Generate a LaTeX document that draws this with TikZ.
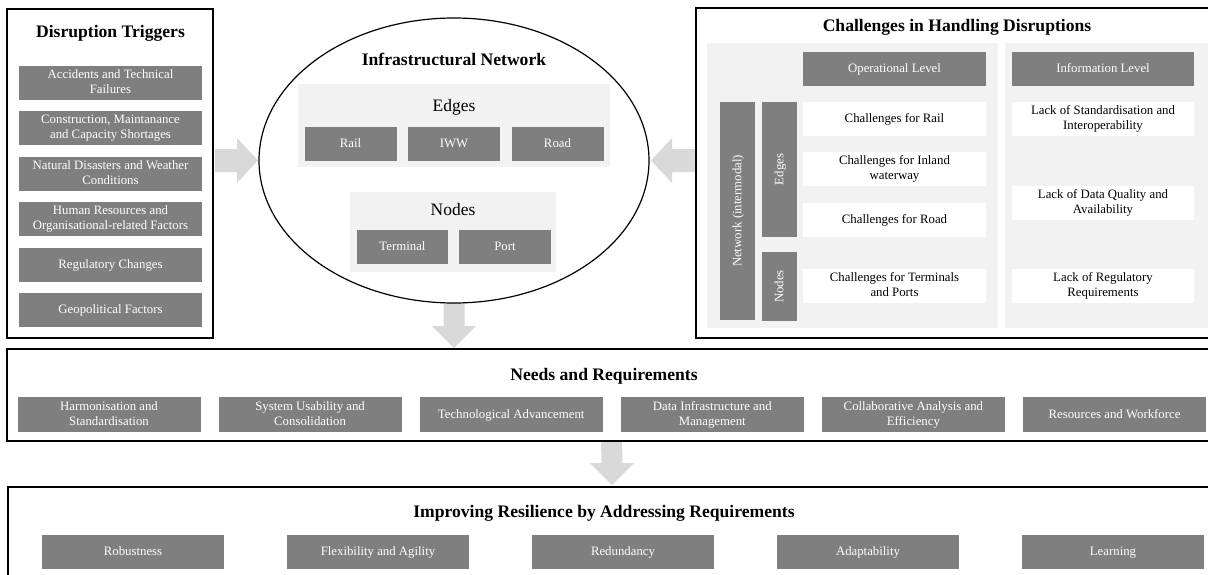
\documentclass[tikz,border=0pt]{standalone}
\usepackage{fontspec}
\setmainfont{Liberation Serif}
\usetikzlibrary{calc,shapes.geometric,backgrounds}

\definecolor{boxgray}{HTML}{7F7F7F}
\definecolor{panelgray}{HTML}{F2F2F2}
\definecolor{arrowgray}{HTML}{D9D9D9}

\newcommand{\smallfont}{\fontsize{9.6pt}{11.25pt}\selectfont}
\newcommand{\headfont}{\fontsize{13.2pt}{15pt}\selectfont\bfseries}
\newcommand{\groupfont}{\fontsize{13.1pt}{15pt}\selectfont}

\tikzset{
  sz/.style 2 args={minimum width=#1*0.75pt, minimum height=#2*0.75pt},
  base/.style={inner sep=0pt, outer sep=0pt, align=center},
  evenlines/.style={execute at begin node={\rule{0pt}{8pt}}, execute at end node={\vphantom{g}}},
  darkbox/.style={base, evenlines, fill=boxgray, text=white, font=\smallfont},
  lightbox/.style={base, evenlines, fill=white, text=black, font=\smallfont},
  panel/.style={base, fill=panelgray},
  frame/.style={base, draw=black, line width=1.2pt},
  headline/.style={font=\headfont, inner sep=0pt},
  grouplabel/.style={font=\groupfont, inner sep=0pt},
  blockarrow/.style={fill=arrowgray},
}

% horizontal block arrow: start, tip, signed head length
\newcommand{\harrowfill}[3]{%
  \fill[blockarrow] ($(#1)+(0,-11.5)$) -- ($(#2)+(#3,-11.5)$) -- ($(#2)+(#3,-22.5)$)
    -- (#2) -- ($(#2)+(#3,22.5)$) -- ($(#2)+(#3,11.5)$) -- ($(#1)+(0,11.5)$) -- cycle;}
% downward block arrow: start, tip
\newcommand{\varrowfill}[2]{%
  \fill[blockarrow] ($(#1)+(-10.5,0)$) -- ($(#2)+(-10.5,-22)$) -- ($(#2)+(-22,-22)$)
    -- (#2) -- ($(#2)+(22,-22)$) -- ($(#2)+(10.5,-22)$) -- ($(#1)+(10.5,0)$) -- cycle;}

\begin{document}
\begin{tikzpicture}[x=0.75pt, y=-0.75pt]
\useasboundingbox (0,0) rectangle (1208,575);
\clip (0,0) rectangle (1208,575);

% ---------------- Disruption triggers ----------------
\node[frame, sz={206}{329}] (trig) at (110,173.5) {};
\node[headline] (trigT) at (110.5,33) {Disruption Triggers};
\node[darkbox, sz={183}{34}] (t1) at (110.5,83)    {Accidents and Technical\\Failures};
\node[darkbox, sz={183}{34}] (t2) at (110.5,128.4) {Construction, Maintanance\\and Capacity Shortages};
\node[darkbox, sz={183}{34}] (t3) at (110.5,173.8) {Natural Disasters and Weather\\Conditions};
\node[darkbox, sz={183}{34}] (t4) at (110.5,219.2) {Human Resources and\\Organisational-related Factors};
\node[darkbox, sz={183}{34}] (t5) at (110.5,264.6) {Regulatory Changes};
\node[darkbox, sz={183}{34}] (t6) at (110.5,310)   {Geopolitical Factors};

% ---------------- Infrastructural network ----------------
\node[base, ellipse, draw=black, line width=0.9pt, sz={390}{285}] (net) at (454,160.5) {};
\node[headline] (netT) at (454,59) {Infrastructural Network};
\node[panel, sz={312}{83}] (edgesP) at (454,125.5) {};
\node[grouplabel] (edgesT) at (454,107) {Edges};
\node[darkbox, sz={92}{34}] (rail) at (350.5,144) {Rail};
\node[darkbox, sz={92}{34}] (iww)  at (454,144)   {IWW};
\node[darkbox, sz={92}{34}] (road) at (557.5,144) {Road};
\node[panel, sz={206}{80}] (nodesP) at (453,232) {};
\node[grouplabel] (nodesT) at (453,210) {Nodes};
\node[darkbox, sz={91}{34}] (term) at (402.5,247) {Terminal};
\node[darkbox, sz={92}{34}] (port) at (505,247)   {Port};

% ---------------- Challenges ----------------
\node[frame, sz={522}{330}] (chal) at (957,173) {};
\node[headline] (chalT) at (957,27) {Challenges in Handling Disruptions};
\node[panel, sz={291}{285}] (opP)  at (852.5,185.5) {};
\node[panel, sz={205}{285}] (infP) at (1107.5,185.5) {};
\node[darkbox, sz={183}{34}] (op)  at (894.5,69) {Operational Level};
\node[darkbox, sz={182}{34}] (inf) at (1103,69)  {Information Level};
\node[darkbox, sz={218}{35}, rotate=90] (vnet)   at (737.5,211)   {Network (intermodal)};
\node[darkbox, sz={135}{35}, rotate=90] (vedges) at (779.5,169.5) {Edges};
\node[darkbox, sz={69}{35},  rotate=90] (vnodes) at (779.5,286.5) {Nodes};
\node[lightbox, sz={183}{34}] (cRail) at (894.5,119)   {Challenges for Rail};
\node[lightbox, sz={183}{34}] (cIww)  at (894.5,169)   {Challenges for Inland\\waterway};
\node[lightbox, sz={183}{34}] (cRoad) at (894.5,219.5) {Challenges for Road};
\node[lightbox, sz={183}{34}] (cTP)   at (894.5,286)   {Challenges for Terminals\\and Ports};
\node[lightbox, sz={182}{34}] (lStd)  at (1103,119)    {Lack of Standardisation and\\Interoperability};
\node[lightbox, sz={182}{34}] (lData) at (1103,202.5)  {Lack of Data Quality and\\Availability};
\node[lightbox, sz={182}{34}] (lReg)  at (1103,285.5)  {Lack of Regulatory\\Requirements};

% ---------------- Needs and requirements ----------------
\node[frame, sz={1209}{92}] (needs) at (611.5,395) {};
\node[headline] (needsT) at (604,376) {Needs and Requirements};
\node[darkbox, sz={183}{35}] (n1) at (109,414.5)    {Harmonisation and\\Standardisation};
\node[darkbox, sz={183}{35}] (n2) at (310.1,414.5)  {System Usability and\\Consolidation};
\node[darkbox, sz={183}{35}] (n3) at (511.2,414.5)  {Technological Advancement};
\node[darkbox, sz={183}{35}] (n4) at (712.3,414.5)  {Data Infrastructure and\\Management};
\node[darkbox, sz={183}{35}] (n5) at (913.4,414.5)  {Collaborative Analysis and\\Efficiency};
\node[darkbox, sz={183}{35}] (n6) at (1114.5,414.5) {Resources and Workforce};

% ---------------- Improving resilience ----------------
\node[frame, sz={1208}{113}] (res) at (612,543.5) {};
\node[headline] (resT) at (604,513) {Improving Resilience by Addressing Requirements};
\node[darkbox, sz={182}{34}] (r1) at (133,552)  {Robustness};
\node[darkbox, sz={182}{34}] (r2) at (378,552)  {Flexibility and Agility};
\node[darkbox, sz={182}{34}] (r3) at (623,552)  {Redundancy};
\node[darkbox, sz={182}{34}] (r4) at (868,552)  {Adaptability};
\node[darkbox, sz={182}{34}] (r5) at (1113,552) {Learning};

% ---------------- Block arrows between the stages ----------------
\coordinate (a1s) at ($(trig.east |- net.center)+(2,0)$);
\coordinate (a1t) at ($(net.west)+(-1,0)$);
\coordinate (a2s) at (chal.west |- net.center);
\coordinate (a2t) at ($(net.east)+(2,0)$);
\coordinate (a3s) at (net.south);
\coordinate (a3t) at ($(needs.north -| net.south)+(0,-1)$);
\coordinate (a4s) at ($(needs.south)+(0,1)$);
\coordinate (a4t) at ($(res.north)+(0,-2)$);
\begin{scope}[on background layer]
  \harrowfill{a1s}{a1t}{-21}
  \harrowfill{a2s}{a2t}{21}
  \varrowfill{a3s}{a3t}
  \varrowfill{a4s}{a4t}
\end{scope}
\end{tikzpicture}
\end{document}
